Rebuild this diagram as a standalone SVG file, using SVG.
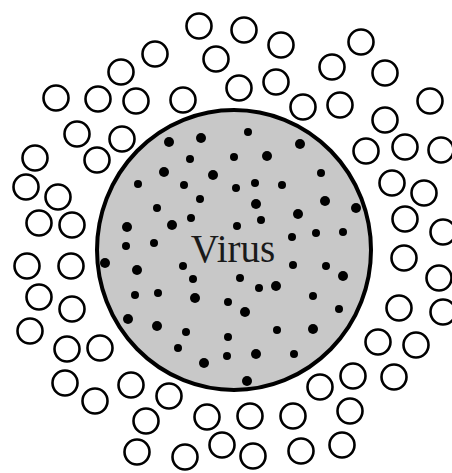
<svg xmlns="http://www.w3.org/2000/svg" width="452" height="473" viewBox="0 0 452 473">
  <style>
    .cell { fill: none; stroke: #000; stroke-width: 2.6; }
    .virus-body { fill: #c8c8c8; stroke: #000; stroke-width: 4; }
    .dot-l { fill: #000; }
    .label { font-family: "Liberation Serif", "Times New Roman", serif; font-size: 39px; fill: #1a1a1a; text-anchor: middle; }
  </style>
  <rect width="452" height="473" fill="#fff"/>

  <!-- surrounding small particles -->
  <g id="particles">
    <circle class="cell" cx="199" cy="26" r="12.5"/>
    <circle class="cell" cx="155" cy="54" r="12.5"/>
    <circle class="cell" cx="216" cy="59" r="12.5"/>
    <circle class="cell" cx="121" cy="72" r="12.5"/>
    <circle class="cell" cx="56" cy="98" r="12.5"/>
    <circle class="cell" cx="98" cy="99" r="12.5"/>
    <circle class="cell" cx="136" cy="101" r="12.5"/>
    <circle class="cell" cx="183" cy="100" r="12.5"/>
    <circle class="cell" cx="77" cy="134" r="12.5"/>
    <circle class="cell" cx="122" cy="139" r="12.5"/>
    <circle class="cell" cx="35" cy="158" r="12.5"/>
    <circle class="cell" cx="97" cy="160" r="12.5"/>
    <circle class="cell" cx="26" cy="187" r="12.5"/>
    <circle class="cell" cx="58" cy="197" r="12.5"/>
    <circle class="cell" cx="39" cy="223" r="12.5"/>
    <circle class="cell" cx="72" cy="225" r="12.5"/>
    <circle class="cell" cx="27" cy="266" r="12.5"/>
    <circle class="cell" cx="71" cy="266" r="12.5"/>
    <circle class="cell" cx="39" cy="297" r="12.5"/>
    <circle class="cell" cx="72" cy="309" r="12.5"/>
    <circle class="cell" cx="30" cy="331" r="12.5"/>
    <circle class="cell" cx="67" cy="349" r="12.5"/>
    <circle class="cell" cx="100" cy="348" r="12.5"/>
    <circle class="cell" cx="65" cy="383" r="12.5"/>
    <circle class="cell" cx="95" cy="401" r="12.5"/>
    <circle class="cell" cx="131" cy="385" r="12.5"/>
    <circle class="cell" cx="169" cy="396" r="12.5"/>
    <circle class="cell" cx="146" cy="421" r="12.5"/>
    <circle class="cell" cx="207" cy="417" r="12.5"/>
    <circle class="cell" cx="222" cy="445" r="12.5"/>
    <circle class="cell" cx="137" cy="452" r="12.5"/>
    <circle class="cell" cx="185" cy="457" r="12.5"/>
    <circle class="cell" cx="253" cy="456" r="12.5"/>
    <circle class="cell" cx="301" cy="451" r="12.5"/>
    <circle class="cell" cx="342" cy="445" r="12.5"/>
    <circle class="cell" cx="250" cy="416" r="12.5"/>
    <circle class="cell" cx="293" cy="416" r="12.5"/>
    <circle class="cell" cx="350" cy="411" r="12.5"/>
    <circle class="cell" cx="320" cy="387" r="12.5"/>
    <circle class="cell" cx="353" cy="376" r="12.5"/>
    <circle class="cell" cx="394" cy="377" r="12.5"/>
    <circle class="cell" cx="378" cy="342" r="12.5"/>
    <circle class="cell" cx="416" cy="345" r="12.5"/>
    <circle class="cell" cx="399" cy="308" r="12.5"/>
    <circle class="cell" cx="443" cy="312" r="12.5"/>
    <circle class="cell" cx="404" cy="258" r="12.5"/>
    <circle class="cell" cx="439" cy="278" r="12.5"/>
    <circle class="cell" cx="405" cy="219" r="12.5"/>
    <circle class="cell" cx="443" cy="232" r="12.5"/>
    <circle class="cell" cx="392" cy="183" r="12.5"/>
    <circle class="cell" cx="424" cy="193" r="12.5"/>
    <circle class="cell" cx="366" cy="151" r="12.5"/>
    <circle class="cell" cx="405" cy="147" r="12.5"/>
    <circle class="cell" cx="441" cy="150" r="12.5"/>
    <circle class="cell" cx="385" cy="120" r="12.5"/>
    <circle class="cell" cx="430" cy="101" r="12.5"/>
    <circle class="cell" cx="303" cy="107" r="12.5"/>
    <circle class="cell" cx="340" cy="105" r="12.5"/>
    <circle class="cell" cx="239" cy="88" r="12.5"/>
    <circle class="cell" cx="276" cy="82" r="12.5"/>
    <circle class="cell" cx="332" cy="67" r="12.5"/>
    <circle class="cell" cx="385" cy="73" r="12.5"/>
    <circle class="cell" cx="361" cy="42" r="12.5"/>
    <circle class="cell" cx="244" cy="30" r="12.5"/>
    <circle class="cell" cx="281" cy="45" r="12.5"/>
  </g>

  <!-- the virus body with its inner dots -->
  <g id="virus">
    <ellipse class="virus-body" cx="234" cy="250" rx="137" ry="140"/>
    <g class="dot-l">
      <circle cx="169" cy="142" r="5"/>
      <circle cx="201" cy="138" r="5"/>
      <circle cx="190" cy="159" r="4"/>
      <circle cx="164" cy="172" r="5"/>
      <circle cx="213" cy="175" r="5"/>
      <circle cx="138" cy="184" r="4"/>
      <circle cx="184" cy="185" r="4"/>
      <circle cx="200" cy="199" r="4"/>
      <circle cx="157" cy="208" r="4"/>
      <circle cx="172" cy="225" r="5"/>
      <circle cx="191" cy="218" r="4"/>
      <circle cx="127" cy="227" r="5"/>
      <circle cx="126" cy="246" r="4"/>
      <circle cx="154" cy="243" r="4"/>
      <circle cx="234" cy="157" r="4"/>
      <circle cx="236" cy="188" r="4"/>
      <circle cx="248" cy="132" r="4"/>
      <circle cx="300" cy="144" r="5"/>
      <circle cx="267" cy="156" r="5"/>
      <circle cx="321" cy="173" r="4"/>
      <circle cx="255" cy="183" r="4"/>
      <circle cx="282" cy="185" r="4"/>
      <circle cx="256" cy="204" r="5"/>
      <circle cx="325" cy="201" r="5"/>
      <circle cx="356" cy="208" r="5"/>
      <circle cx="298" cy="214" r="5"/>
      <circle cx="261" cy="220" r="4"/>
      <circle cx="237" cy="226" r="4"/>
      <circle cx="292" cy="237" r="4"/>
      <circle cx="316" cy="233" r="4"/>
      <circle cx="343" cy="232" r="4"/>
      <circle cx="293" cy="265" r="4"/>
      <circle cx="326" cy="266" r="4"/>
      <circle cx="343" cy="276" r="5"/>
      <circle cx="240" cy="278" r="4"/>
      <circle cx="259" cy="288" r="4"/>
      <circle cx="276" cy="286" r="5"/>
      <circle cx="313" cy="296" r="4"/>
      <circle cx="339" cy="309" r="4"/>
      <circle cx="245" cy="312" r="5"/>
      <circle cx="277" cy="330" r="4"/>
      <circle cx="313" cy="329" r="5"/>
      <circle cx="256" cy="354" r="5"/>
      <circle cx="294" cy="354" r="4"/>
      <circle cx="247" cy="381" r="5"/>
      <circle cx="105" cy="263" r="5"/>
      <circle cx="137" cy="270" r="5"/>
      <circle cx="183" cy="266" r="4"/>
      <circle cx="193" cy="279" r="4"/>
      <circle cx="135" cy="295" r="4"/>
      <circle cx="158" cy="293" r="4"/>
      <circle cx="195" cy="298" r="5"/>
      <circle cx="228" cy="302" r="4"/>
      <circle cx="128" cy="319" r="5"/>
      <circle cx="157" cy="326" r="5"/>
      <circle cx="186" cy="332" r="4"/>
      <circle cx="228" cy="337" r="4"/>
      <circle cx="178" cy="348" r="4"/>
      <circle cx="227" cy="356" r="4"/>
      <circle cx="204" cy="363" r="5"/>
    </g>
    <text class="label" x="233" y="262">Virus</text>
  </g>
</svg>
